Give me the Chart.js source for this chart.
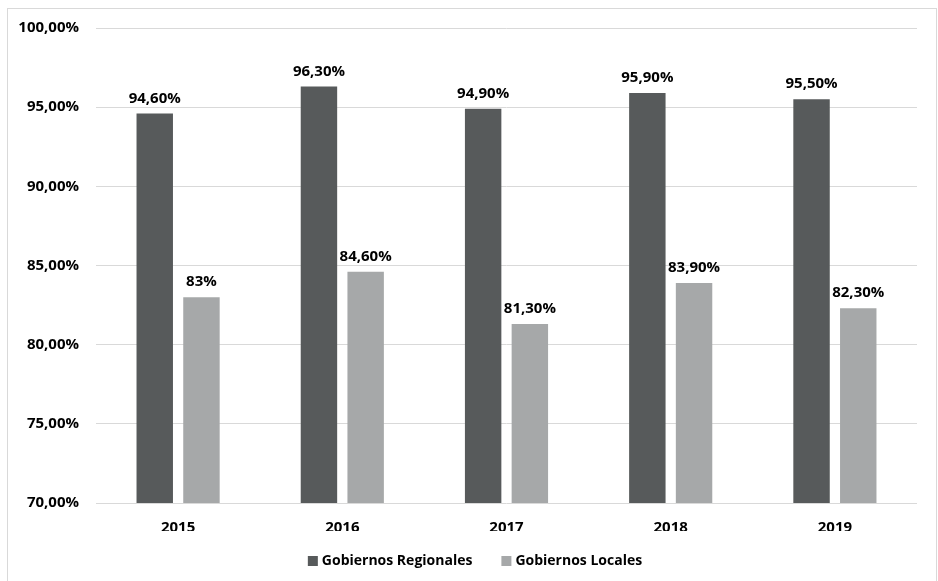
<!DOCTYPE html>
<html>
<head>
<meta charset="utf-8">
<script src="https://cdn.jsdelivr.net/npm/chart.js@4"></script>
<style>
    html, body { margin: 0; padding: 0; background: #fff; overflow: hidden; }
    #frame { position: absolute; left: 7px; top: 8px; width: 928px; height: 600px; border: 1px solid #d9d9d9; }
    #wrap { position: absolute; left: 0; top: 0; width: 938px; height: 581px; }
</style>
</head>
<body>
<div id="frame"></div>
<div id="wrap"><canvas id="chart" width="938" height="581"></canvas></div>
<script>
const years = ['2015', '2016', '2017', '2018', '2019'];
const regionales = [94.6, 96.3, 94.9, 95.9, 95.5];
const locales = [83, 84.6, 81.3, 83.9, 82.3];
const yTicks = [70, 75, 80, 85, 90, 95, 100];

const FONT = '"Open Sans", Lato, sans-serif';

// "94,60%" style, but whole numbers stay short ("83%")
const pct = v => (Number.isInteger(v) ? String(v) : v.toFixed(2).replace('.', ',')) + '%';
const tickPct = v => v.toFixed(2).replace('.', ',') + '%';

// value labels above each bar
const barLabels = {
    id: 'barLabels',
    afterDatasetsDraw(chart) {
        const ctx = chart.ctx;
        ctx.save();
        ctx.font = 'bold 15px ' + FONT;
        ctx.fillStyle = '#000';
        ctx.textAlign = 'center';
        ctx.textBaseline = 'alphabetic';
        chart.data.datasets.forEach((ds, i) => {
            chart.getDatasetMeta(i).data.forEach((bar, j) => {
                ctx.fillText(pct(ds.data[j]), bar.x, bar.y - 11);
            });
        });
        ctx.restore();
    }
};

// legend row under the axis: small square + label, items centred together
const bottomLegend = {
    id: 'bottomLegend',
    afterDraw(chart) {
        const ctx = chart.ctx;
        const box = 10, gap = 4, spacing = 29, cy = 561;
        ctx.save();
        ctx.font = 'bold 14px ' + FONT;
        ctx.textBaseline = 'middle';
        ctx.textAlign = 'left';
        const items = chart.data.datasets.map(ds => ({ text: ds.label, color: ds.backgroundColor, w: ctx.measureText(ds.label).width }));
        const total = items.reduce((s, it) => s + box + gap + it.w, 0) + spacing * (items.length - 1);
        let x = chart.width / 2 + 6 - total / 2;
        items.forEach(it => {
            ctx.fillStyle = it.color;
            ctx.fillRect(x, cy - box / 2, box, box);
            ctx.fillStyle = '#000';
            ctx.fillText(it.text, x + box + gap, cy);
            x += box + gap + it.w + spacing;
        });
        ctx.restore();
    }
};

new Chart(document.getElementById('chart'), {
    type: 'bar',
    data: {
        labels: years,
        datasets: [
            { label: 'Gobiernos Regionales', data: regionales, backgroundColor: '#575a5b' },
            { label: 'Gobiernos Locales', data: locales, backgroundColor: '#a6a8a9' }
        ]
    },
    options: {
        responsive: false,
        animation: false,
        layout: { padding: { top: 28, right: 21, bottom: 50, left: 0 } },
        datasets: { bar: { categoryPercentage: 0.569, barPercentage: 0.78 } },
        scales: {
            x: {
                grid: { display: false, drawTicks: false },
                border: { display: false },
                ticks: { color: '#000', font: { family: FONT, size: 15, weight: 'bold' }, padding: 16 },
                afterFit: s => { s.height = 28; }
            },
            y: {
                min: 70,
                max: 100,
                afterBuildTicks: s => { s.ticks = yTicks.map(v => ({ value: v })); },
                grid: { color: '#d9d9d9', drawTicks: false },
                border: { display: false },
                ticks: { color: '#000', font: { family: FONT, size: 15, weight: 'bold' }, padding: 17, callback: v => tickPct(v) },
                afterFit: s => { s.width = 96; }
            }
        },
        plugins: {
            legend: { display: false },
            tooltip: { enabled: false }
        }
    },
    plugins: [barLabels, bottomLegend]
});
</script>
</body>
</html>
